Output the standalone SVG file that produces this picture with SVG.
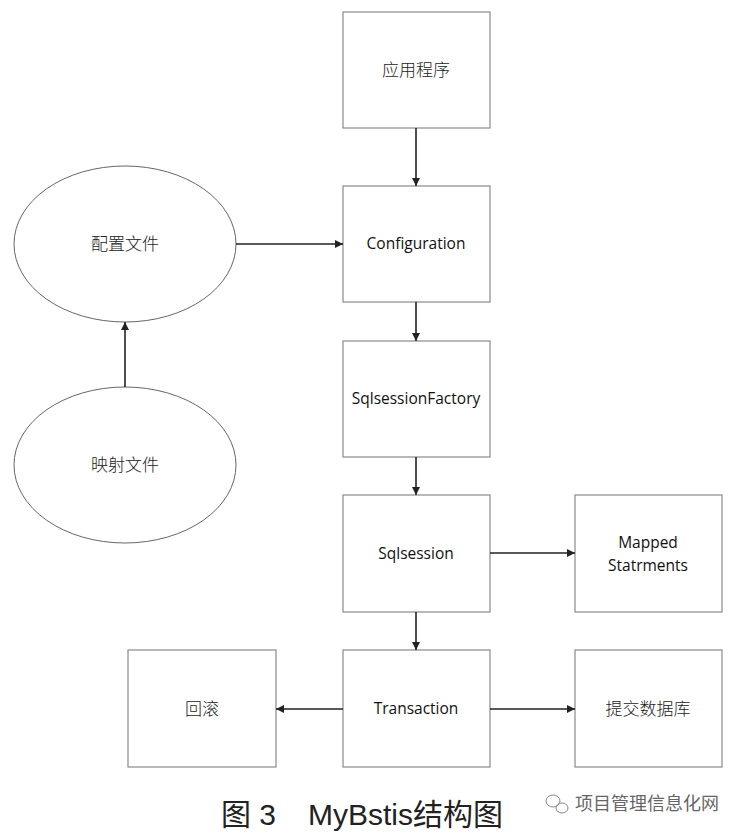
<svg xmlns="http://www.w3.org/2000/svg" width="741" height="836" viewBox="0 0 741 836">
<style>
.box{fill:#fff;stroke:#8a8a8a;stroke-width:1.2}
.ell{fill:#fff;stroke:#555;stroke-width:0.9}
.en{font-family:"Open Sans","Liberation Sans",sans-serif;font-size:15.5px;fill:#111;text-anchor:middle}
.zh{font-family:"Noto Sans CJK SC",sans-serif;font-size:17px;font-weight:300;fill:#222;text-anchor:middle}
.con{stroke:#222;stroke-width:1.6;fill:none;marker-end:url(#ah)}
.cap{font-family:"Liberation Sans","Noto Sans CJK SC",sans-serif;font-size:30px;fill:#222}
.wm{font-family:"Noto Sans CJK SC",sans-serif;font-size:18px;fill:#666}
</style>
<defs>
<marker id="ah" viewBox="0 0 10 10" refX="10" refY="5" markerWidth="9" markerHeight="8" orient="auto" markerUnits="userSpaceOnUse">
<path d="M0,0 L10,5 L0,10 z" fill="#222"/>
</marker>
</defs>
<rect width="741" height="836" fill="#fff"/>
<g id="app"><rect class="box" x="343" y="12" width="147" height="116"/><text class="zh" x="416" y="76">应用程序</text></g>
<g id="configuration"><rect class="box" x="343" y="186" width="147" height="116"/><text class="en" x="416" y="249">Configuration</text></g>
<g id="factory"><rect class="box" x="343" y="341" width="147" height="116"/><text class="en" x="416" y="404">SqlsessionFactory</text></g>
<g id="sqlsession"><rect class="box" x="343" y="495" width="147" height="117"/><text class="en" x="416" y="559">Sqlsession</text></g>
<g id="mapped"><rect class="box" x="575" y="495" width="147" height="117"/><text class="en" x="648" y="548">Mapped</text><text class="en" x="648" y="571">Statrments</text></g>
<g id="transaction"><rect class="box" x="343" y="650" width="147" height="117"/><text class="en" x="416" y="714">Transaction</text></g>
<g id="rollback"><rect class="box" x="128" y="650" width="148" height="117"/><text class="zh" x="202" y="715">回滚</text></g>
<g id="commit"><rect class="box" x="575" y="650" width="147" height="117"/><text class="zh" x="648" y="715">提交数据库</text></g>
<g id="config-file"><ellipse class="ell" cx="125" cy="244" rx="111" ry="78"/><text class="zh" x="125" y="250">配置文件</text></g>
<g id="mapping-file"><ellipse class="ell" cx="125" cy="465" rx="111" ry="78"/><text class="zh" x="125" y="471">映射文件</text></g>
<g id="connectors">
<line class="con" x1="416" y1="128" x2="416" y2="186"/>
<line class="con" x1="416" y1="302" x2="416" y2="341"/>
<line class="con" x1="416" y1="457" x2="416" y2="495"/>
<line class="con" x1="416" y1="612" x2="416" y2="650"/>
<line class="con" x1="236" y1="244" x2="343" y2="244"/>
<line class="con" x1="125" y1="387" x2="125" y2="322"/>
<line class="con" x1="490" y1="553" x2="575" y2="553"/>
<line class="con" x1="343" y1="709" x2="276" y2="709"/>
<line class="con" x1="490" y1="709" x2="575" y2="709"/>
</g>
<g id="caption">
<text class="cap" x="221" y="825">图 3</text>
<text class="cap" x="308" y="825">MyBstis结构图</text>
</g>
<g id="watermark">
<g fill="none" stroke="#888" stroke-width="1">
<ellipse cx="553" cy="801" rx="7" ry="6"/>
<ellipse cx="562" cy="808" rx="6" ry="5"/>
</g>
<text class="wm" x="575" y="810">项目管理信息化网</text>
</g>
</svg>
